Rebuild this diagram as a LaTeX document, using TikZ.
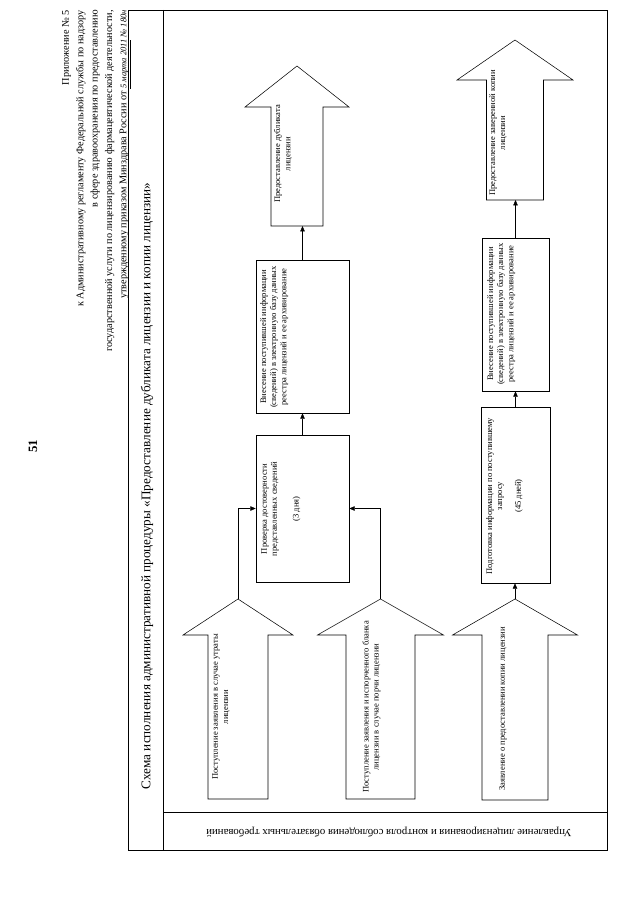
\documentclass[tikz,border=0pt]{standalone}
\usepackage{fontspec}
\setmainfont{Liberation Serif}
\usetikzlibrary{arrows.meta,fit}

% hollow block arrow: name, x of centre, tip, shoulder, base, half shaft, half head
\newcommand\bigarrow[7]{%
  \draw[line width=0.5pt] (#2-#6,#5) -- (#2-#6,#4) -- (#2-#7,#4) -- (#2,#3)
    -- (#2+#7,#4) -- (#2+#6,#4) -- (#2+#6,#5) -- cycle;
  \coordinate (#1-tip) at (#2,#3);
  \coordinate (#1-base) at (#2,#5);
}

\begin{document}
\begin{tikzpicture}[x=0.33mm,y=-0.33mm,
    txt/.style={rotate=90,align=center,inner sep=0pt,font=\fontsize{8}{9.5}\selectfont},
    box/.style={draw,line width=0.5pt,inner sep=0pt},
    link/.style={-{Triangle[length=1.8mm,width=1.5mm]},line width=0.5pt}]
\useasboundingbox (0,0) rectangle (640,905);

% page number and header
\node[rotate=90,font=\fontsize{12}{14}\selectfont\bfseries] (page) at (33,446) {51};
\node[rotate=90,anchor=north east,align=right,inner sep=0pt,
      font=\fontsize{9.6}{13.5}\selectfont] (head) at (62,10)
  {Приложение № 5\\
   к Административному регламенту Федеральной службы по надзору\\
   в сфере здравоохранения по предоставлению\\
   государственной услуги по лицензированию фармацевтической деятельности,\\
   утвержденному приказом Минздрава России от {\fontsize{8}{9}\selectfont\itshape\underline{5 марта 2011} № \underline{180н}}};

% frame with lane
\draw[line width=0.6pt] (128,10) rectangle (607,850);
\draw[line width=0.6pt] (163,10) -- (163,850);
\draw[line width=0.6pt] (163,812) -- (607,812);
\node[rotate=90,font=\fontsize{12.4}{14}\selectfont] (title) at (147,486)
  {Схема исполнения административной процедуры «Предоставление дубликата лицензии и копии лицензии»};
\node[rotate=180,font=\fontsize{10.2}{12}\selectfont] (lane) at (389,832)
  {Управление лицензирования и контроля соблюдения обязательных требований};

% incoming
\bigarrow{lost}{238}{599}{635}{799}{30}{55}
\bigarrow{spoil}{380.5}{599}{635}{799}{34.5}{63}
\bigarrow{copyreq}{515}{599}{635}{800}{33}{62.5}
\node[txt] (lostT) at (221,707) {Поступление заявления в случае утраты\\ лицензии};
\node[txt] (spoilT) at (371.5,707) {Поступление заявления и испорченного бланка\\ лицензии в случае порчи лицензии};
\node[txt] (copyreqT) at (503,709) {Заявление о предоставлении копии лицензии};

% boxes
\node[box,fit={(256,435) (349,582)}] (check) {};
\node[txt,anchor=north] (checkT) at (261,509)
  {Проверка достоверности\\ представленных сведений\\[11pt] (3 дня)};
\node[box,fit={(256,260) (349,413)}] (entry1) {};
\node[txt,anchor=north] (entry1T) at (260,337)
  {Внесение поступившей информации\\ (сведений) в электронную базу данных\\ реестра лицензий и ее архивирование};
\node[box,fit={(481,407) (550,583)}] (prep) {};
\node[txt,anchor=north] (prepT) at (486,496)
  {Подготовка информации по поступившему\\ запросу\\[8pt] (45 дней)};
\node[box,fit={(482,238) (549,391)}] (entry2) {};
\node[txt,anchor=north] (entry2T) at (487,314)
  {Внесение поступившей информации\\ (сведений) в электронную базу данных\\ реестра лицензий и ее архивирование};

% outgoing
\bigarrow{dup}{297}{66}{107}{226}{26}{52}
\bigarrow{copy}{515}{40}{80}{200}{28.5}{58}
\node[txt] (dupT) at (283,154) {Предоставление дубликата\\ лицензии};
\node[txt] (copyT) at (498,133) {Предоставление заверенной копии\\ лицензии};

% connectors
\draw[link] (lost-tip) |- (check.west);
\draw[link] (spoil-tip) |- (check.east);
\draw[link] (check.north) -- (entry1.south);
\draw[link] (entry1.north) -- (entry1.north |- dup-base);
\draw[link] (copyreq-tip) -- (copyreq-tip |- prep.south);
\draw[link] (prep.north) -- (prep.north |- entry2.south);
\draw[link] (entry2.north) -- (entry2.north |- copy-base);
\end{tikzpicture}
\end{document}
